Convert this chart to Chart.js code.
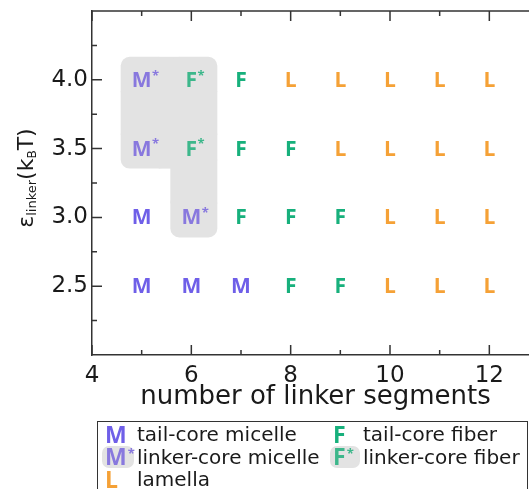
<!DOCTYPE html>
<html>
<head>
<meta charset="utf-8">
<script src="https://cdn.jsdelivr.net/npm/chart.js@4.4.1/dist/chart.umd.min.js"></script>
<style>
  html, body { margin: 0; padding: 0; background: #fff; overflow: hidden; width: 529px; height: 489px; }
  #wrap { position: absolute; left: 0; top: 0; width: 552px; height: 420px; }
  #legend {
    position: absolute; left: 97px; top: 421px; width: 431px; height: 80px;
    border: 1.5px solid #333; background: #fff;
    display: grid; grid-template-columns: 32px 196px 30px auto; grid-auto-rows: 22.5px;
    padding: 1px 0 0 4px; box-sizing: border-box;
    font-family: "DejaVu Sans", sans-serif; font-size: 20px; color: #1a1a1a;
  }
  #legend .sym {
    display: flex; align-items: center; justify-content: flex-start;
    padding-left: 3px;
    font-family: "Open Sans", sans-serif; font-weight: 700; font-size: 23px; line-height: 1;
    border-radius: 7px;
  }
  #legend .sym.star { background: #e3e3e3; }
  #legend .sym sup { font-size: 13px; position: relative; top: -3px; margin-left: 1px; }
  #legend .txt { display: flex; align-items: center; padding-left: 3px; white-space: nowrap; }
</style>
</head>
<body>
<div id="wrap"><canvas id="chart" width="552" height="420"></canvas></div>
<div id="legend"></div>
<script>
// Phase diagram: morphology vs. linker length and linker attraction strength
const segments = [5, 6, 7, 8, 9, 10, 11, 12, 13];
const epsilonLevels = [2.5, 3.0, 3.5, 4.0];
const phaseAt25 = ['M', 'M', 'M', 'F', 'F', 'L', 'L', 'L', 'L'];
const phaseAt30 = ['M', 'M*', 'F', 'F', 'F', 'L', 'L', 'L', 'L'];
const phaseAt35 = ['M*', 'F*', 'F', 'F', 'L', 'L', 'L', 'L', 'L'];
const phaseAt40 = ['M*', 'F*', 'F', 'L', 'L', 'L', 'L', 'L', 'L'];

const phaseCodes = ['M', 'F', 'M*', 'F*', 'L'];
const phaseNames = ['tail-core micelle', 'tail-core fiber', 'linker-core micelle', 'linker-core fiber', 'lamella'];
const phaseColors = ['#6f5fe8', '#17b07c', '#8878de', '#3db78b', '#f5a136'];

const xTickValues = [4, 6, 8, 10, 12];
const xMinorTicks = [5, 7, 9, 11];
const yTickValues = [2.5, 3.0, 3.5, 4.0];
const yMinorTicks = [2.25, 2.75, 3.25, 3.75, 4.25];

const phaseRows = [phaseAt25, phaseAt30, phaseAt35, phaseAt40];

const AXIS = '#333';
const FONT = '"DejaVu Sans", sans-serif';
const SYMBOL_FONT = '"Open Sans", sans-serif';

const datasets = phaseCodes.map((code, k) => {
  const pts = [];
  phaseRows.forEach((row, r) => row.forEach((p, c) => {
    if (p === code) pts.push({ x: segments[c], y: epsilonLevels[r] });
  }));
  return { label: code, data: pts, pointRadius: 0, pointHoverRadius: 0, showLine: false, color: phaseColors[k], clip: false };
});

// grey rounded patch behind the linker-core (starred) states
const starPatch = {
  id: 'starPatch',
  beforeDatasetsDraw(chart) {
    const { ctx, scales: { x, y } } = chart;
    const padL = 21, padR = 26, padT = 23, padB = 20, rad = 9;
    const cells = [];
    phaseRows.forEach((row, r) => row.forEach((p, c) => {
      if (p.endsWith('*')) cells.push({ c, r });
    }));
    const has = (c, r) => cells.some(o => o.c === c && o.r === r);
    const px = c => x.getPixelForValue(segments[c]);
    const py = r => y.getPixelForValue(epsilonLevels[r]);
    ctx.save();
    ctx.fillStyle = '#e3e3e3';
    cells.forEach(({ c, r }) => {
      const cx = px(c), cy = py(r);
      ctx.beginPath();
      ctx.roundRect(cx - padL, cy - padT, padL + padR, padT + padB, rad);
      ctx.fill();
      if (has(c + 1, r)) {
        const nx = px(c + 1);
        ctx.fillRect(cx + padR - rad, cy - padT, (nx - padL + rad) - (cx + padR - rad), padT + padB);
      }
      if (has(c, r - 1)) {
        const ny = py(r - 1);
        ctx.fillRect(cx - padL, cy + padB - rad, padL + padR, (ny - padT + rad) - (cy + padB - rad));
      }
      if (has(c + 1, r) && has(c, r - 1) && has(c + 1, r - 1)) {
        const nx = px(c + 1), ny = py(r - 1);
        ctx.fillRect(cx + padR - rad, cy + padB - rad, (nx - padL + rad) - (cx + padR - rad), (ny - padT + rad) - (cy + padB - rad));
      }
    });
    ctx.restore();
  }
};

function drawSymbol(ctx, code, cx, cy, color, size) {
  const letter = code[0];
  ctx.fillStyle = color;
  ctx.font = `700 ${size}px ${SYMBOL_FONT}`;
  ctx.textAlign = 'center';
  ctx.textBaseline = 'middle';
  ctx.fillText(letter, cx, cy + 1);
  if (code.endsWith('*')) {
    const w = ctx.measureText(letter).width;
    ctx.font = `700 ${Math.round(size * 0.62)}px ${SYMBOL_FONT}`;
    ctx.textAlign = 'left';
    ctx.fillText('*', cx + w / 2 + 0.5, cy - 4);
  }
}

// phase letters placed at each data point
const phaseLetters = {
  id: 'phaseLetters',
  afterDatasetsDraw(chart) {
    const { ctx } = chart;
    ctx.save();
    chart.data.datasets.forEach((ds, i) => {
      chart.getDatasetMeta(i).data.forEach(el => drawSymbol(ctx, ds.label, el.x, el.y, ds.color, 21));
    });
    ctx.restore();
  }
};

// frame with inward major/minor ticks on all sides, plus the y-axis title
const frame = {
  id: 'frame',
  afterDraw(chart) {
    const { ctx, chartArea: a, scales: { x, y } } = chart;
    ctx.save();
    ctx.strokeStyle = AXIS;
    ctx.lineWidth = 1.5;
    ctx.beginPath();
    ctx.moveTo(a.left, a.top); ctx.lineTo(a.right, a.top);
    ctx.moveTo(a.right, a.top); ctx.lineTo(a.right, a.bottom);
    const major = 10, minor = 5;
    const xt = (v, len) => {
      const p = x.getPixelForValue(v);
      ctx.moveTo(p, a.bottom); ctx.lineTo(p, a.bottom - len);
      ctx.moveTo(p, a.top); ctx.lineTo(p, a.top + len);
    };
    const yt = (v, len) => {
      const p = y.getPixelForValue(v);
      ctx.moveTo(a.left, p); ctx.lineTo(a.left + len, p);
      ctx.moveTo(a.right, p); ctx.lineTo(a.right - len, p);
    };
    xTickValues.forEach(v => xt(v, major));
    xMinorTicks.forEach(v => xt(v, minor));
    yTickValues.forEach(v => yt(v, major));
    yMinorTicks.forEach(v => yt(v, minor));
    ctx.stroke();

    // ε_linker (k_B T)
    const parts = [
      { t: 'ε', s: 22, dy: 0 },
      { t: 'linker', s: 13, dy: 3 },
      { t: '(k', s: 22, dy: 0 },
      { t: 'B', s: 12, dy: 3 },
      { t: 'T)', s: 22, dy: 0 }
    ];
    let total = 0;
    parts.forEach(p => { ctx.font = `${p.s}px ${FONT}`; p.w = ctx.measureText(p.t).width; total += p.w; });
    ctx.translate(33, 178);
    ctx.rotate(-Math.PI / 2);
    ctx.fillStyle = '#1a1a1a';
    ctx.textBaseline = 'alphabetic';
    ctx.textAlign = 'left';
    let pos = -total / 2;
    parts.forEach(p => {
      ctx.font = `${p.s}px ${FONT}`;
      ctx.fillText(p.t, pos, p.dy);
      pos += p.w;
    });
    ctx.restore();
  }
};

new Chart(document.getElementById('chart'), {
  type: 'scatter',
  data: { datasets },
  plugins: [starPatch, phaseLetters, frame],
  options: {
    responsive: false,
    animation: false,
    devicePixelRatio: 1,
    layout: { padding: { top: 11, right: 13, left: 0, bottom: 0 } },
    plugins: { legend: { display: false }, tooltip: { enabled: false } },
    scales: {
      x: {
        type: 'linear', min: 4, max: 13,
        afterBuildTicks: s => { s.ticks = xTickValues.map(v => ({ value: v })); },
        afterFit: s => { s.height = 65; s.paddingLeft = 0; s.paddingRight = 0; },
        grid: { display: false, drawTicks: false },
        border: { display: true, color: AXIS, width: 1.5 },
        ticks: { font: { family: FONT, size: 23 }, color: '#1a1a1a', padding: 7, maxRotation: 0, autoSkip: false },
        title: { display: true, text: 'number of linker segments', font: { family: FONT, size: 26 }, color: '#1a1a1a', padding: { top: 0, bottom: 7 } }
      },
      y: {
        type: 'linear', min: 2, max: 4.5,
        afterBuildTicks: s => { s.ticks = yTickValues.map(v => ({ value: v })); },
        afterFit: s => { s.width = 92; s.paddingTop = 0; s.paddingBottom = 0; },
        grid: { display: false, drawTicks: false },
        border: { display: true, color: AXIS, width: 1.5 },
        ticks: { font: { family: FONT, size: 23 }, color: '#1a1a1a', padding: 4, callback: v => v.toFixed(1) },
        title: { display: false }
      }
    }
  }
});

// legend: symbol + description for each phase
const legendEl = document.getElementById('legend');
phaseCodes.forEach((code, k) => {
  const sym = document.createElement('span');
  sym.className = 'sym' + (code.endsWith('*') ? ' star' : '');
  sym.style.color = phaseColors[k];
  sym.textContent = code[0];
  if (code.endsWith('*')) {
    const sup = document.createElement('sup');
    sup.textContent = '*';
    sym.appendChild(sup);
  }
  const txt = document.createElement('span');
  txt.className = 'txt';
  txt.textContent = phaseNames[k];
  legendEl.appendChild(sym);
  legendEl.appendChild(txt);
});
</script>
</body>
</html>
